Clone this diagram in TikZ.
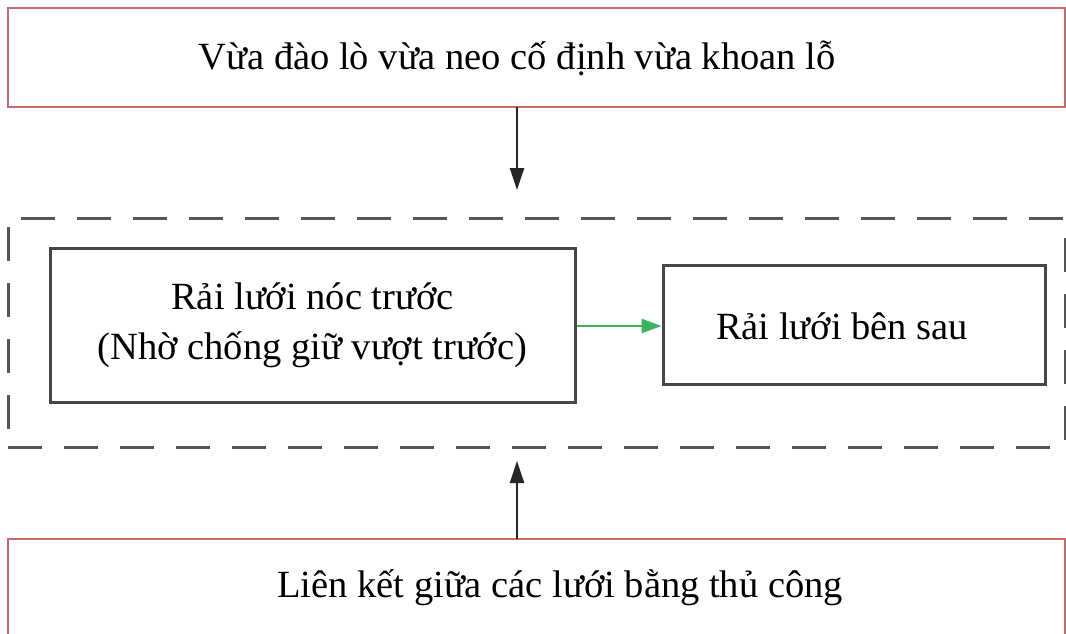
\documentclass[tikz,border=0pt]{standalone}
\usepackage{fontspec}
\setmainfont{Liberation Serif}
\usetikzlibrary{arrows.meta}
\definecolor{redb}{RGB}{200,105,110}
\definecolor{grayb}{RGB}{70,70,70}
\definecolor{dashc}{RGB}{85,85,85}
\definecolor{greena}{RGB}{60,180,95}
\tikzset{
  redbox/.style={draw=redb, line width=2.6pt, rectangle, inner sep=0pt},
  graybox/.style={draw=grayb, line width=3pt, rectangle, inner sep=0pt, align=center, font=\fontsize{38.5}{50}\selectfont},
  label/.style={font=\fontsize{38.5}{46}\selectfont, inner sep=0pt},
  dashbox/.style={draw=dashc, line width=3pt, dash pattern=on 34pt off 22pt, rectangle, inner sep=0pt},
  blackarrow/.style={draw=black!85, line width=2.4pt, -{Triangle[length=22pt,width=14pt]}},
  greenarrow/.style={draw=greena, line width=2.4pt, -{Triangle[length=20pt,width=14pt]}},
}
\begin{document}
\begin{tikzpicture}[x=1pt,y=-1pt]
\clip (0,0) rectangle (1066,634);
\fill[white] (0,0) rectangle (1066,634);
\node[redbox, minimum width=1057pt, minimum height=99pt] (top) at (536.5,57.5) {};
\node[label] (toptext) at (517,58) {Vừa đào lò vừa neo cố định vừa khoan lỗ};
\node[dashbox, minimum width=1057pt, minimum height=229pt] (group) at (536.5,332.5) {};
\node[graybox, minimum width=525pt, minimum height=154pt] (left) at (312.5,325) {Rải lưới nóc trước\\(Nhờ chống giữ vượt trước)};
\node[graybox, minimum width=382pt, minimum height=119pt] (right) at (854,324.5) {};
\node[label] (righttext) at (842,326) {Rải lưới bên sau};
\node[redbox, minimum width=1057pt, minimum height=140pt] (bottom) at (536.5,609) {};
\node[label] (bottomtext) at (560,588) {Liên kết giữa các lưới bằng thủ công};
\coordinate (a1s) at (517,107);
\coordinate (a1e) at (517,190);
\coordinate (a2s) at (517,539);
\coordinate (a2e) at (517,461);
\draw[blackarrow] (a1s) -- (a1e);
\draw[blackarrow] (a2s) -- (a2e);
\draw[greenarrow] (left.east |- 0,326) -- (right.west |- 0,326);
\end{tikzpicture}
\end{document}
